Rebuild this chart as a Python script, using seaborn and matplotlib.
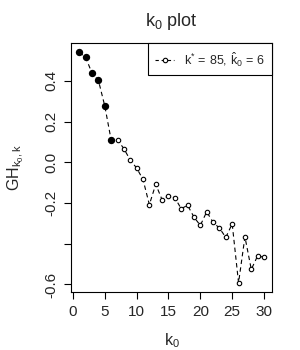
import matplotlib
matplotlib.use("Agg")
import matplotlib.pyplot as plt
import seaborn as sns
import pandas as pd
from matplotlib.lines import Line2D

k0 = list(range(1, 31))
gh = [0.540, 0.516, 0.437, 0.403, 0.277, 0.110, 0.110, 0.067, 0.011, -0.028,
      -0.084, -0.208, -0.108, -0.184, -0.164, -0.174, -0.228, -0.211, -0.269, -0.310,
      -0.243, -0.295, -0.323, -0.369, -0.302, -0.592, -0.366, -0.526, -0.459, -0.467]
k_hat = 6
yticks = [0.4, 0.2, 0.0, -0.2, -0.4, -0.6]
ytick_labels = ["0.4", "0.2", "0.0", "-0.2", "", "-0.6"]
xticks = [0, 5, 10, 15, 20, 25, 30]

df = pd.DataFrame({"k0": k0, "gh": gh})
df_sel = df[df["k0"] <= k_hat]

sns.set_theme(style="white")
plt.rcParams["font.family"] = ["Liberation Sans", "DejaVu Sans"]
plt.rcParams["mathtext.fontset"] = "custom"
plt.rcParams["mathtext.rm"] = "Liberation Sans"
plt.rcParams["mathtext.it"] = "Liberation Sans"
plt.rcParams["mathtext.bf"] = "Liberation Sans:bold"

fig = plt.figure(figsize=(3.0, 3.5), dpi=100)
ax = fig.add_axes([71/300, 1-292/350, (272-71)/300, (292-43)/350])

sns.lineplot(data=df, x="k0", y="gh", ax=ax, color="black", linewidth=0.8,
             linestyle=(0, (4, 3)), marker="o", markersize=3.2,
             markerfacecolor="white", markeredgecolor="black", markeredgewidth=0.8)
sns.scatterplot(data=df_sel, x="k0", y="gh", ax=ax, color="black", s=28,
                edgecolor="black", linewidth=0, zorder=5)

ax.set_xlim(-0.3, 31.25)
ax.set_ylim(-0.637, 0.586)
ax.set_xticks(xticks)
ax.set_xticklabels([str(t) for t in xticks], fontsize=11)
ax.set_yticks(yticks)
ax.set_yticklabels(ytick_labels, fontsize=11, rotation=90, va="center")
ax.tick_params(axis="both", direction="out", length=5, width=0.8, color="black",
               bottom=True, left=True, pad=4)
for s in ax.spines.values():
    s.set_visible(True)
    s.set_color("black")
    s.set_linewidth(0.8)

ax.set_xlabel(r"k$_0$", fontsize=11.5, labelpad=9)
ax.set_ylabel(r"GH$_{k_0,k}$", fontsize=11.5, labelpad=13)
ax.set_title(r"k$_0$ plot", fontsize=13, pad=12)

handle = Line2D([0], [0], color="black", linewidth=0.8, linestyle=(0, (3, 2.5)),
                marker="o", markersize=3.2, markerfacecolor="white",
                markeredgecolor="black", markeredgewidth=0.8)
leg = ax.legend([handle], [r"$\mathrm{k}^{*}\,=\,85,\,\hat{\mathrm{k}}_0\,=\,6$"], loc="upper right",
                fontsize=9, frameon=True, fancybox=False, framealpha=1,
                edgecolor="black", borderaxespad=0, handlelength=1.5,
                handletextpad=0.8, borderpad=0.55)
leg.get_frame().set_linewidth(0.8)

fig.savefig("out.png", dpi=100)
